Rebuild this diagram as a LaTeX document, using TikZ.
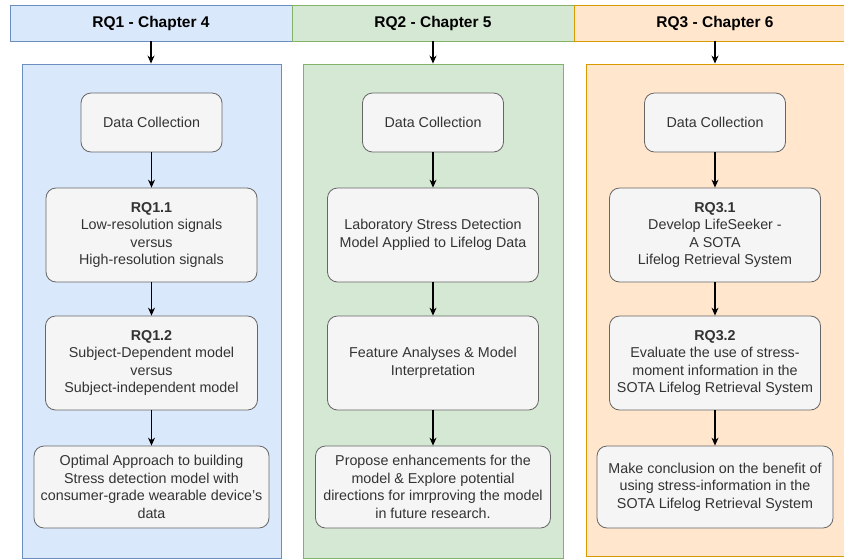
\documentclass[tikz,border=0pt]{standalone}
\usepackage{fontspec}
\setmainfont{Liberation Sans}
\usetikzlibrary{arrows.meta}
\definecolor{bluefill}{HTML}{DAE8FC}
\definecolor{bluedraw}{HTML}{6C8EBF}
\definecolor{greenfill}{HTML}{D5E8D4}
\definecolor{greendraw}{HTML}{82B366}
\definecolor{orangefill}{HTML}{FFE6CC}
\definecolor{orangedraw}{HTML}{D79B00}
\definecolor{boxfill}{HTML}{F5F5F5}
\definecolor{boxdraw}{HTML}{666666}
\definecolor{boxtext}{HTML}{333333}
\tikzset{
  header/.style={draw=#1draw, fill=#1fill, line width=0.9pt, inner sep=0pt,
    font=\fontsize{15.5}{18}\selectfont\bfseries, text=black},
  panel/.style={draw=#1draw, fill=#1fill, line width=0.9pt, inner sep=0pt},
  stepbox/.style={draw=boxdraw, fill=boxfill, line width=0.8pt, rounded corners=10pt,
    align=center, text=boxtext, inner sep=0pt,
    font=\fontsize{14.3}{17.5}\selectfont},
  flow/.style={-{Stealth[length=8pt,width=7pt]}, line width=1.1pt, black},
}
\begin{document}
\begin{tikzpicture}[x=1pt,y=-1pt]
\useasboundingbox (0,0) rectangle (844,558);
\clip (0,0) rectangle (844,558);
\fill[white] (0,0) rectangle (844,558);

% column headers
\node[header=blue, minimum width=282pt, minimum height=36pt] (h1) at (151,23) {RQ1 - Chapter 4};
\node[header=green, minimum width=282pt, minimum height=36pt] (h2) at (433,23) {RQ2 - Chapter 5};
\node[header=orange, minimum width=282pt, minimum height=36pt] (h3) at (715,23) {RQ3 - Chapter 6};

% column panels
\node[panel=blue, minimum width=259pt, minimum height=494pt] (p1) at (151.5,311) {};
\node[panel=green, minimum width=260pt, minimum height=494pt] (p2) at (433,311) {};
\node[panel=orange, minimum width=258pt, minimum height=492pt] (p3) at (715,310) {};

% RQ1 column
\node[stepbox, minimum width=141pt, minimum height=59pt] (a1) at (151.5,122.5) {Data Collection};
\node[stepbox, minimum width=211pt, minimum height=94pt] (a2) at (151.5,235)
  {\textbf{RQ1.1}\\Low-resolution signals\\versus\\High-resolution signals};
\node[stepbox, minimum width=212pt, minimum height=94pt] (a3) at (151.5,363)
  {\textbf{RQ1.2}\\Subject-Dependent model\\versus\\Subject-independent model};
\node[stepbox, minimum width=235pt, minimum height=82pt] (a4) at (151.5,487)
  {Optimal Approach to building\\Stress detection model with\\consumer-grade wearable device{\char"0027}s\\data};

% RQ2 column
\node[stepbox, minimum width=141pt, minimum height=59pt] (b1) at (433,122.5) {Data Collection};
\node[stepbox, minimum width=211pt, minimum height=94pt] (b2) at (433,235)
  {Laboratory Stress Detection\\Model Applied to Lifelog Data};
\node[stepbox, minimum width=211pt, minimum height=94pt] (b3) at (433,363)
  {Feature Analyses \& Model\\Interpretation};
\node[stepbox, minimum width=235pt, minimum height=82pt] (b4) at (433,487)
  {Propose enhancements for the\\model \& Explore potential\\directions for imrproving the model\\in future research.};

% RQ3 column
\node[stepbox, minimum width=141pt, minimum height=59pt] (c1) at (715,122.5) {Data Collection};
\node[stepbox, minimum width=211pt, minimum height=94pt] (c2) at (715,235)
  {\textbf{RQ3.1}\\Develop LifeSeeker -\\A SOTA\\Lifelog Retrieval System};
\node[stepbox, minimum width=211pt, minimum height=94pt] (c3) at (715,363)
  {\textbf{RQ3.2}\\Evaluate the use of stress-\\moment information in the\\SOTA Lifelog Retrieval System};
\node[stepbox, minimum width=236pt, minimum height=82pt] (c4) at (715,487)
  {Make conclusion on the benefit of\\using stress-information in the\\SOTA Lifelog Retrieval System};

% connectors
\foreach \h/\p in {h1/p1,h2/p2,h3/p3}
  \draw[flow] (\h.south) -- (\h.south |- \p.north);
\foreach \u/\v in {a1/a2,a2/a3,a3/a4,b1/b2,b2/b3,b3/b4,c1/c2,c2/c3,c3/c4}
  \draw[flow] (\u.south) -- (\u.south |- \v.north);
\end{tikzpicture}
\end{document}
